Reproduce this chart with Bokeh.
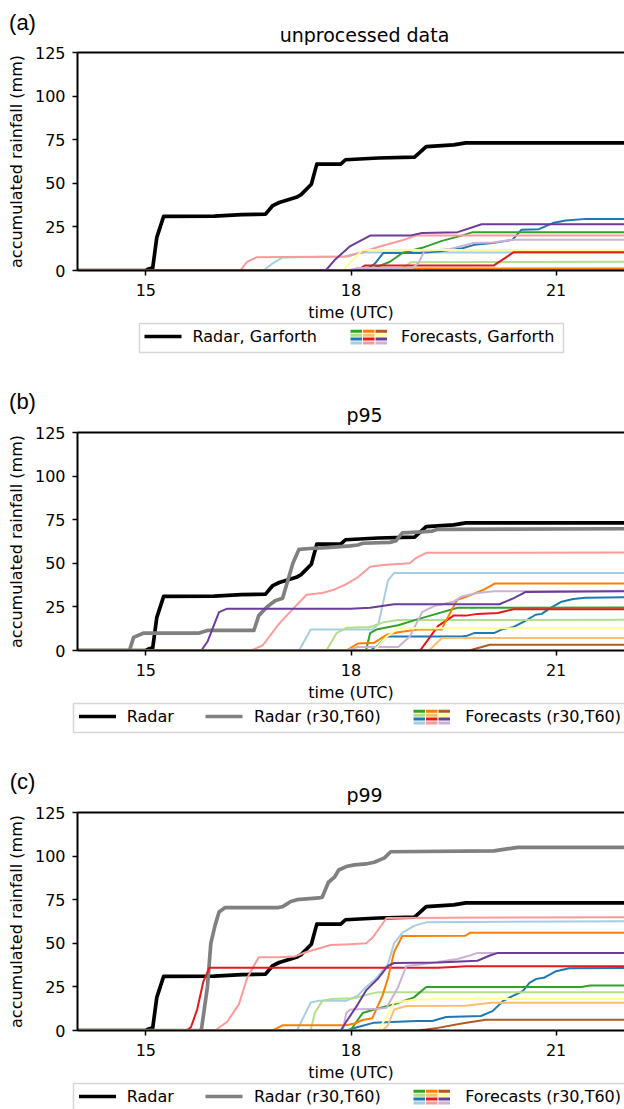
from bokeh.plotting import figure
from bokeh.models import Range1d, FixedTicker, LinearAxis
from bokeh.layouts import column
from bokeh.core.properties import value
from bokeh.embed import file_html
from bokeh.resources import INLINE

# ---------------- data (time in UTC hours, accumulated rainfall in mm) ----------------
TIME_TICKS = [15, 18, 21]
RAIN_TICKS = [0, 25, 50, 75, 100, 125]
TITLES = ["unprocessed data", "p95", "p99"]
TAGS = ["(a)", "(b)", "(c)"]
X_LABEL = "time (UTC)"
Y_LABEL = "accumulated rainfall (mm)"

# Paired palette, one colour per forecast member
PAIRED = ["#a6cee3", "#1f78b4", "#b2df8a", "#33a02c", "#fb9a99", "#e31a1c",
          "#fdbf6f", "#ff7f00", "#cab2d6", "#6a3d9a", "#ffff99", "#b15928"]

radar = [(14.0, 0), (15.0, 0), (15.05, 1), (15.1, 1.5), (15.16, 19), (15.26, 31), (16.0, 31.2),
         (16.4, 32), (16.75, 32.3), (16.85, 37), (16.95, 39), (17.2, 42), (17.27, 43.5),
         (17.42, 49.5), (17.5, 61), (17.85, 61), (17.92, 63.5), (18.4, 64.5), (18.93, 65),
         (19.1, 71), (19.5, 72), (19.68, 73.2), (22.0, 73.2)]

# panel (a): unprocessed forecasts
a_lblue = [(14, 0), (16.72, 0), (16.85, 4), (17.0, 7.5), (17.9, 8), (18.05, 9.5), (18.2, 10.3), (22, 10.3)]
a_blue = [(14, 0), (18.2, 0), (18.35, 4), (18.47, 10), (19.0, 10), (19.3, 11), (19.63, 12.8), (19.8, 14.7),
          (20.07, 15.7), (20.36, 17.6), (20.49, 23.3), (20.75, 23.7), (20.95, 27.2), (21.14, 28.7),
          (21.44, 29.6), (22, 29.6)]
a_lgreen = [(14, 0), (18.7, 0), (18.88, 4.8), (22, 5.0)]
a_green = [(14, 0), (18.25, 0), (18.57, 5), (18.75, 10), (19.04, 13), (19.33, 17), (19.62, 20),
           (19.78, 22), (22, 22)]
a_pink = [(14, 0), (16.38, 0), (16.48, 5), (16.62, 7.6), (17.95, 8), (18.4, 13.5), (18.75, 17.3),
          (18.95, 20), (22, 20)]
a_red = [(14, 0), (18.1, 0), (18.2, 2.9), (20.09, 2.9), (20.38, 10.5), (22, 10.5)]
a_lorange = [(14, 0), (18.3, 0), (18.6, 0.8), (22, 0.8)]
a_orange = [(14, 0), (18.2, 0), (18.4, 1.2), (22, 1.2)]
a_lavender = [(14, 0), (17.95, 0), (18.1, 1.5), (18.9, 1.5), (18.99, 4.5), (19.07, 11), (19.45, 12.3),
              (19.78, 15.7), (20.07, 16.1), (20.36, 17.6), (22, 17.6)]
a_purple = [(14, 0), (17.63, 0), (17.76, 6), (17.99, 14), (18.28, 20), (18.86, 20), (19.04, 21.5),
            (19.56, 22), (19.91, 26.5), (22, 26.5)]
a_yellow = [(14, 0), (17.88, 0), (18.0, 5), (18.17, 11.8), (22, 11.8)]
a_brown = [(14, 0), (22, 0)]

# panel (b): p95, radar and forecasts (r30,T60)
b_radar = [(14, 0), (14.76, 0), (14.82, 7.5), (14.97, 10), (15.78, 10), (15.9, 11.5), (16.58, 11.5),
           (16.65, 20), (16.77, 25), (16.89, 28.5), (17.0, 30), (17.15, 50), (17.24, 58), (17.41, 58.5),
           (17.64, 59), (17.99, 60), (18.1, 60.5), (18.17, 61.5), (18.57, 62), (18.66, 63),
           (18.75, 67.5), (19.04, 68), (19.19, 68.5), (19.27, 69.5), (22, 69.8)]
b_lblue = [(14, 0), (17.24, 0), (17.41, 12), (18.31, 12), (18.4, 15), (18.54, 40), (18.63, 44.5), (22, 44.5)]
b_blue = [(14, 0), (18.28, 0), (18.4, 3), (18.52, 8), (19.62, 8), (19.7, 8.5), (19.8, 10), (20.09, 10),
          (20.2, 12), (20.38, 13.5), (20.55, 17), (20.7, 20.5), (20.79, 21), (20.9, 24), (21.08, 28),
          (21.25, 29.5), (21.43, 30.3), (22, 30.5)]
b_lgreen = [(14, 0), (17.64, 0), (17.79, 10), (17.93, 13), (18.28, 13.5), (18.46, 16), (18.69, 17.5), (22, 17.6)]
b_green = [(14, 0), (18.22, 0), (18.28, 10), (18.37, 12), (18.69, 14.5), (18.98, 18), (19.16, 20),
           (19.56, 24.5), (22, 24.6)]
b_pink = [(14, 0), (16.54, 0), (16.71, 3), (16.94, 15), (17.18, 25), (17.35, 32), (17.58, 33), (17.76, 35),
          (17.93, 38), (18.1, 42), (18.28, 48), (18.46, 49), (18.86, 50), (18.95, 53), (19.1, 56), (22, 56.2)]
b_red = [(14, 0), (19.01, 0), (19.16, 8), (19.27, 14), (19.5, 20), (19.68, 20), (19.85, 21), (20.15, 21.5),
         (20.38, 23.7), (22, 23.7)]
b_lorange = [(14, 0), (19.14, 0), (19.33, 7.2), (22, 7.2)]
b_orange = [(14, 0), (17.93, 0), (18.1, 4), (18.34, 4.5), (18.52, 9), (18.69, 10.5), (18.98, 12), (19.33, 12),
            (19.35, 14), (19.55, 29), (19.7, 31), (19.95, 35), (20.1, 38.4), (22, 38.4)]
b_lavender = [(14, 0), (17.93, 0), (18.1, 2), (18.69, 2), (18.86, 8), (19.04, 22), (19.19, 25), (19.27, 26),
              (19.5, 28), (19.62, 31), (19.85, 33), (20.09, 34), (22, 34.3)]
b_purple = [(14, 0), (15.81, 0), (15.9, 5), (16.07, 22), (16.19, 24), (17.99, 24), (18.28, 24.5),
            (18.63, 26.5), (20.17, 26.5), (20.38, 30), (20.55, 33.5), (22, 34)]
b_yellow = [(14, 0), (18.34, 0), (18.52, 8), (18.6, 10), (18.69, 12.8), (22, 12.8)]
b_brown = [(18.5, 0), (19.73, 0), (20.03, 3.3), (22, 3.3)]

# panel (c): p99, radar and forecasts (r30,T60)
c_radar = [(14, 0), (15.81, 0), (15.9, 25), (15.95, 50), (16.01, 60), (16.07, 68), (16.16, 70.5),
           (16.94, 70.5), (17.0, 71), (17.12, 74), (17.21, 75), (17.53, 76), (17.58, 76.5), (17.67, 85),
           (17.76, 88), (17.82, 92), (17.93, 94), (18.05, 95), (18.22, 95.5), (18.34, 96.5), (18.49, 99),
           (18.58, 102.5), (20.09, 103), (20.26, 104), (20.44, 105), (22, 105)]
c_lblue = [(14, 0), (17.21, 0), (17.41, 16), (17.52, 17), (17.93, 17), (18.1, 20), (18.22, 25), (18.37, 30),
           (18.54, 38), (18.63, 50), (18.75, 56), (18.92, 60), (19.1, 62), (22, 62.7)]
c_blue = [(14, 0), (17.93, 0), (18.1, 2), (18.34, 4.5), (18.95, 5.4), (19.19, 5.4), (19.39, 7.7), (19.9, 8.3),
          (20.07, 11.1), (20.22, 16.8), (20.36, 19.7), (20.51, 22.5), (20.61, 27.3), (20.71, 29.6),
          (20.82, 30.2), (21.0, 34), (21.19, 35.7), (22, 35.9)]
c_lgreen = [(14, 0), (17.41, 0), (17.47, 10), (17.58, 17), (17.7, 18), (18.05, 18.5), (18.28, 21), (18.4, 22), (22, 22)]
c_green = [(14, 0), (17.99, 0), (18.17, 10), (18.34, 12), (18.63, 15), (18.92, 19), (19.1, 25), (21.37, 25),
           (21.5, 25.8), (22, 25.8)]
c_pink = [(14, 0), (16.01, 0), (16.19, 5), (16.36, 15), (16.48, 30), (16.65, 42), (16.94, 42), (17.18, 42.5),
          (17.35, 45), (17.7, 49), (17.99, 49.5), (18.22, 50), (18.31, 53), (18.52, 64.5), (22, 65)]
c_red = [(14, 0), (15.6, 0), (15.66, 2), (15.75, 12), (15.84, 28), (15.93, 36), (19.27, 36), (19.56, 36.5),
         (19.68, 36.8), (22, 36.8)]
c_lorange = [(14, 0), (18.46, 0), (18.54, 3), (18.63, 12), (18.81, 14), (19.67, 14.2), (20.05, 15.9), (22, 15.9)]
c_orange = [(14, 0), (16.85, 0), (17.0, 3), (17.93, 3), (18.05, 4), (18.17, 6), (18.31, 7), (18.46, 20),
            (18.54, 30), (18.63, 45), (18.75, 54.2), (19.67, 54.3), (19.74, 56), (22, 56)]
c_lavender = [(14, 0), (17.88, 0), (17.93, 10), (17.99, 12), (18.4, 12.5), (18.52, 13), (18.69, 25),
              (18.81, 37), (19.04, 38), (19.56, 41), (19.74, 43), (19.85, 44.5), (22, 44.5)]
c_purple = [(14, 0), (17.85, 0), (17.93, 5), (18.1, 15), (18.22, 23), (18.4, 30), (18.54, 37), (18.63, 38.7),
            (19.27, 39), (19.85, 40), (20.03, 43), (20.15, 44.5), (22, 44.5)]
c_yellow = [(14, 0), (18.4, 0), (18.52, 8), (18.63, 16), (18.92, 17.5), (19.2, 18), (22, 18)]
c_brown = [(18.5, 0), (18.98, 0), (19.27, 1.5), (19.62, 4), (19.97, 6.2), (22, 6.2)]

A_FORECASTS = [a_lblue, a_blue, a_lgreen, a_green, a_pink, a_red, a_lorange, a_orange, a_lavender, a_purple, a_yellow, a_brown]
B_FORECASTS = [b_lblue, b_blue, b_lgreen, b_green, b_pink, b_red, b_lorange, b_orange, b_lavender, b_purple, b_yellow, b_brown]
C_FORECASTS = [c_lblue, c_blue, c_lgreen, c_green, c_pink, c_red, c_lorange, c_orange, c_lavender, c_purple, c_yellow, c_brown]

FONT = "DejaVu Sans"
TAG_FONT = "Liberation Sans"
W = 624
TOP_B = 7      # border above each plot frame
FRAME_H = 218
BOT_B = 33     # border below each plot frame


def style_axis(ax, ticks, standoff):
    ax.ticker = FixedTicker(ticks=ticks)
    ax.axis_line_width = 2
    ax.axis_line_color = "black"
    ax.major_tick_line_width = 1.5
    ax.major_tick_line_color = "black"
    ax.major_tick_out = 5
    ax.major_tick_in = 0
    ax.minor_tick_line_color = None
    ax.major_label_text_font = FONT
    ax.major_label_text_font_size = "16px"
    ax.major_label_text_color = "black"
    ax.major_label_standoff = standoff


def make_panel(forecasts, radar_r30):
    p = figure(width=W, height=TOP_B + FRAME_H + BOT_B, x_range=Range1d(14, 22), y_range=Range1d(0, 125),
               output_backend="svg", toolbar_location=None, frame_align=False,
               min_border_left=77, min_border_right=0, min_border_top=TOP_B, min_border_bottom=BOT_B)
    p.grid.visible = False
    p.outline_line_color = None
    p.background_fill_color = "white"
    p.border_fill_color = "white"
    style_axis(p.xaxis[0], TIME_TICKS, 8)
    style_axis(p.yaxis[0], RAIN_TICKS, 7)
    p.yaxis.axis_label = Y_LABEL
    p.yaxis.axis_label_text_font = FONT
    p.yaxis.axis_label_text_font_size = "16px"
    p.yaxis.axis_label_text_font_style = "normal"
    p.yaxis.axis_label_text_color = "black"
    p.yaxis.axis_label_standoff = 6
    top = LinearAxis(ticker=FixedTicker(ticks=[]), axis_line_width=2, axis_line_color="black",
                     major_tick_line_color=None, minor_tick_line_color=None, major_tick_out=0,
                     major_tick_in=0, major_label_standoff=0, axis_label_standoff=0)
    p.add_layout(top, "above")

    t, v = zip(*radar)
    p.line(list(t), list(v), line_color="black", line_width=3.7, line_join="round")
    if radar_r30 is not None:
        t, v = zip(*radar_r30)
        p.line(list(t), list(v), line_color="#808080", line_width=3.7, line_join="round")
    for series, col in zip(forecasts, PAIRED):
        t, v = zip(*series)
        p.line(list(t), list(v), line_color=col, line_width=2, line_join="round")
    return p


def blank(height):
    q = figure(width=W, height=height, x_range=Range1d(0, W), y_range=Range1d(0, height),
               output_backend="svg", toolbar_location=None, frame_align=False,
               min_border_left=0, min_border_right=0, min_border_top=0, min_border_bottom=0,
               x_axis_type=None, y_axis_type=None)
    q.grid.visible = False
    q.outline_line_color = None
    q.background_fill_color = "white"
    q.border_fill_color = "white"
    return q


def put_text(q, height, x, y_local, text, font=FONT, size="16px", align="left"):
    q.text(x=[x], y=[height - y_local], text=[text], text_font=value(font), text_font_size=value(size),
           text_baseline="middle", text_align=align, text_color="black")


def put_header(q, height, y_tag, y_title, tag, title):
    put_text(q, height, 22, y_tag, tag, font=TAG_FONT, size="22px", align="center")
    put_text(q, height, 364, y_title, title, size="19px", align="center")


def put_legend(q, height, y0, box, entries):
    Y = lambda local: height - local
    q.quad(left=[box[0]], right=[box[1]], top=[Y(y0)], bottom=[Y(y0 + 29)], fill_color="white",
           line_color="#d6d6d6", line_width=1.5)
    yc = y0 + 13
    for kind, x0, label, tx0, align in entries:
        if kind == "grid":
            cw, gap, rh, rp = 11.5, 1.0, 3.0, 3.9
            rows = [[3, 7, 11], [2, 6, 10], [1, 5, 9], [0, 4, 8]]
            L, R, T, B, C = [], [], [], [], []
            for ri, row in enumerate(rows):
                top_local = yc - 6.7 + ri * rp
                for ci, idx in enumerate(row):
                    L.append(x0 + ci * (cw + gap))
                    R.append(x0 + ci * (cw + gap) + cw)
                    T.append(Y(top_local))
                    B.append(Y(top_local + rh))
                    C.append(PAIRED[idx])
            q.quad(left=L, right=R, top=T, bottom=B, fill_color=C, line_color=None)
        else:
            q.line([x0, x0 + 37], [Y(yc), Y(yc)], line_color=kind, line_width=3.7)
        put_text(q, height, tx0, yc, label, align=align)


LEG_A = [("black", 144, "Radar, Garforth", 192, "left"),
         ("grid", 350, "Forecasts, Garforth", 554, "right")]
LEG_BC = [("black", 78.5, "Radar", 126.3, "left"),
          ("#808080", 205, "Radar (r30,T60)", 253.4, "left"),
          ("grid", 413, "Forecasts (r30,T60)", 620.5, "right")]

# header above panel (a)
H_HEAD = 52 - TOP_B
head_a = blank(H_HEAD)
put_header(head_a, H_HEAD, 22, 34.5, TAGS[0], TITLES[0])

# footer of a panel: x label, legend, and the next panel's tag/title
GAP = 162  # frame bottom -> next frame top
H_FOOT = GAP - BOT_B - TOP_B


def make_foot(height, legend_box, legend_entries, next_tag=None, next_title=None):
    q = blank(height)
    put_text(q, height, 350.5, 41.5 - BOT_B, X_LABEL, align="center")
    put_legend(q, height, 53 - BOT_B, legend_box, legend_entries)
    if next_tag is not None:
        put_header(q, height, GAP - 31 - BOT_B, GAP - 17.5 - BOT_B, next_tag, next_title)
    return q


p_a = make_panel(A_FORECASTS, None)
f_a = make_foot(H_FOOT, (139, 563), LEG_A, TAGS[1], TITLES[1])
p_b = make_panel(B_FORECASTS, b_radar)
f_b = make_foot(H_FOOT, (73, 629), LEG_BC, TAGS[2], TITLES[2])
p_c = make_panel(C_FORECASTS, c_radar)
used = H_HEAD + 3 * (TOP_B + FRAME_H + BOT_B) + 2 * H_FOOT
f_c = make_foot(1109 - used, (73, 629), LEG_BC)

layout = column(head_a, p_a, f_a, p_b, f_b, p_c, f_c, spacing=0)
open("out.html", "w").write(file_html(layout, INLINE))
